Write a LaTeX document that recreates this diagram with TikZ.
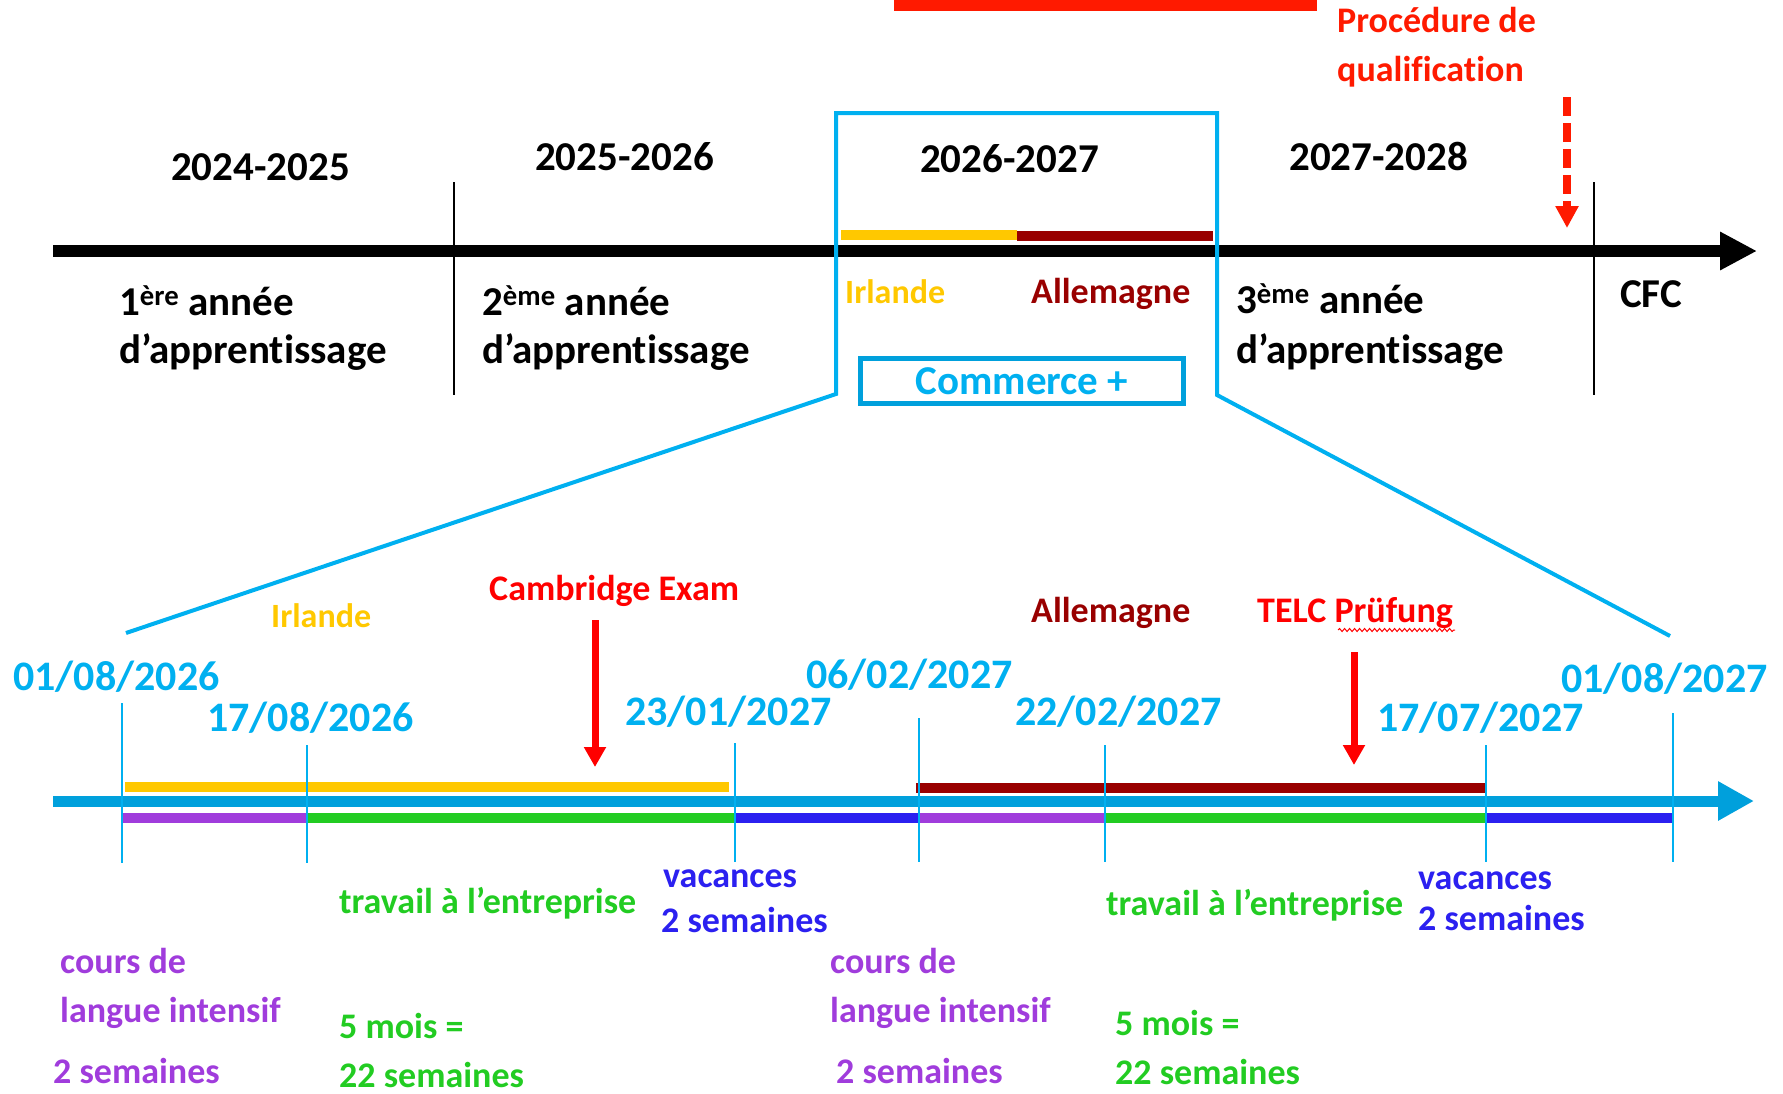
\documentclass[tikz,border=0pt]{standalone}
\usepackage{fontspec}
\setmainfont{Carlito}[Ligatures=NoCommon]
\usetikzlibrary{arrows.meta,decorations.pathmorphing}
\definecolor{datecyan}{HTML}{00B0F0}
\definecolor{axisblue}{HTML}{00A0DC}
\definecolor{irlyellow}{HTML}{FFC800}
\definecolor{deured}{HTML}{990000}
\definecolor{examred}{HTML}{FF0000}
\definecolor{barred}{HTML}{FF1A00}
\definecolor{coursviolet}{HTML}{A03CDC}
\definecolor{travgreen}{HTML}{22CC22}
\definecolor{vacblue}{HTML}{2B20F0}
\tikzset{
  txt/.style={inner sep=0pt, anchor=base west, font=\bfseries\fontsize{41}{49}\selectfont},
  datetxt/.style={txt, text=datecyan, font=\bfseries\fontsize{42}{50}\selectfont},
  midtxt/.style={txt, font=\bfseries\fontsize{36}{43}\selectfont},
  smalltxt/.style={txt, font=\bfseries\fontsize{34}{41}\selectfont},
  tickline/.style={datecyan, line width=1.2pt},
  segbar/.style={line width=10pt},
  examarrow/.style={examred, line width=7pt, -{Triangle[length=20pt,width=21pt]}},
}
\begin{document}
\begin{tikzpicture}[x=1pt,y=-1pt]
  \useasboundingbox (0,0) rectangle (1783,1093);
  % top timeline
  \fill[barred] (894,0) rectangle (1317,11);
  \draw[line width=12pt, -{Triangle[length=37pt,width=36pt]}] (53,251) -- (1757,251);
  \draw[line width=1.5pt] (454,182) -- (454,395);
  \draw[line width=1.5pt] (1594,182) -- (1594,395);
  \draw[segbar, irlyellow] (841,235) -- (1017,235);
  \draw[segbar, deured] (1017,236) -- (1213,236);
  \node[txt] (y2425) at (171,180) {2024-2025};
  \node[txt] (y2526) at (535,170) {2025-2026};
  \node[txt] (y2627) at (920,172) {2026-2027};
  \node[txt] (y2728) at (1289,170) {2027-2028};
  \node[txt] (an1) at (119,315) {1\textsuperscript{ère} année};
  \node[txt] (an1b) at (119,363) {d’apprentissage};
  \node[txt] (an2) at (482,315) {2\textsuperscript{ème} année};
  \node[txt] (an2b) at (482,363) {d’apprentissage};
  \node[txt] (an3) at (1236,313) {3\textsuperscript{ème} année};
  \node[txt] (an3b) at (1236,363) {d’apprentissage};
  \node[txt] (cfc) at (1620,307) {CFC};
  \node[smalltxt, text=irlyellow] (irlTop) at (845,303) {Irlande};
  \node[midtxt, text=deured] (allTop) at (1031,303) {Allemagne};
  \node[midtxt, text=barred] (proc) at (1337,32) {Procédure de};
  \node[midtxt, text=barred] (qualif) at (1337,81) {qualification};
  \coordinate (procS) at (1567,97);
  \coordinate (procE) at (1567,228);
  \draw[barred, line width=8pt, dash pattern=on 19pt off 7pt,
        -{Triangle[length=22pt,width=22pt]}] (procS) -- (procE);
  \node[draw=axisblue, line width=5pt, minimum width=323pt, minimum height=45pt,
        inner sep=0pt, text=datecyan, font=\bfseries\fontsize{41}{49}\selectfont]
        (commerce) at (1022,381) {Commerce +};
  % zoom on 2026-2027
  \draw[datecyan, line width=4pt] (126,633) -- (836,394) -- (836,113)
        -- (1217,113) -- (1217,395) -- (1670,636);
  % bottom timeline
  \draw[segbar, irlyellow] (125,787) -- (729,787);
  \draw[segbar, deured] (916,788) -- (1485,788);
  \draw[axisblue, line width=11pt, -{Triangle[length=36pt,width=37pt]}] (53,801) -- (1754,801);
  \draw[segbar, coursviolet] (122,818) -- (307,818);
  \draw[segbar, travgreen] (307,818) -- (735,818);
  \draw[segbar, vacblue] (735,818) -- (919,818);
  \draw[segbar, coursviolet] (919,818) -- (1105,818);
  \draw[segbar, travgreen] (1105,818) -- (1486,818);
  \draw[segbar, vacblue] (1486,818) -- (1673,818);
  % routine for ticks
  \draw[tickline] (122,703) -- (122,863);
  \draw[tickline] (307,745) -- (307,863);
  \draw[tickline] (735,743) -- (735,862);
  \draw[tickline] (919,718) -- (919,862);
  \draw[tickline] (1105,745) -- (1105,862);
  \draw[tickline] (1486,745) -- (1486,862);
  \draw[tickline] (1673,713) -- (1673,862);
  \node[datetxt] (d0108a) at (13,690) {01/08/2026};
  \node[datetxt] (d1708) at (207,731) {17/08/2026};
  \node[datetxt] (d2301) at (625,725) {23/01/2027};
  \node[datetxt] (d0602) at (806,688) {06/02/2027};
  \node[datetxt] (d2202) at (1015,725) {22/02/2027};
  \node[datetxt] (d1707) at (1377,731) {17/07/2027};
  \node[datetxt] (d0108b) at (1561,692) {01/08/2027};
  \node[smalltxt, text=irlyellow] (irlBot) at (271,627) {Irlande};
  \node[midtxt, text=examred] (camb) at (489,600) {Cambridge Exam};
  \node[midtxt, text=deured] (allBot) at (1031,622) {Allemagne};
  \node[midtxt, text=examred] (telc) at (1257,622) {TELC Prüfung};
  \draw[examred, line width=1pt, decorate,
        decoration={snake, amplitude=1.5pt, segment length=5pt}] (1338,630) -- (1455,630);
  \coordinate (cambS) at (595,620);
  \coordinate (cambE) at (595,767);
  \draw[examarrow] (cambS) -- (cambE);
  \coordinate (telcS) at (1354,652);
  \coordinate (telcE) at (1354,765);
  \draw[examarrow] (telcS) -- (telcE);
  % period labels
  \node[midtxt, text=vacblue] (vac1) at (663,887) {vacances};
  \node[midtxt, text=vacblue] (vac1b) at (661,932) {2 semaines};
  \node[midtxt, text=travgreen] (trav1) at (339,913) {travail à l’entreprise};
  \node[midtxt, text=travgreen] (mois1) at (339,1038) {5 mois =};
  \node[midtxt, text=travgreen] (sem1) at (339,1087) {22 semaines};
  \node[midtxt, text=coursviolet] (cours1) at (60,973) {cours de};
  \node[midtxt, text=coursviolet] (cours1b) at (60,1022) {langue intensif};
  \node[midtxt, text=coursviolet] (cours1c) at (53,1083) {2 semaines};
  \node[midtxt, text=vacblue] (vac2) at (1418,889) {vacances};
  \node[midtxt, text=vacblue] (vac2b) at (1418,930) {2 semaines};
  \node[midtxt, text=travgreen] (trav2) at (1106,915) {travail à l’entreprise};
  \node[midtxt, text=travgreen] (mois2) at (1115,1035) {5 mois =};
  \node[midtxt, text=travgreen] (sem2) at (1115,1084) {22 semaines};
  \node[midtxt, text=coursviolet] (cours2) at (830,973) {cours de};
  \node[midtxt, text=coursviolet] (cours2b) at (830,1022) {langue intensif};
  \node[midtxt, text=coursviolet] (cours2c) at (836,1083) {2 semaines};
\end{tikzpicture}
\end{document}
